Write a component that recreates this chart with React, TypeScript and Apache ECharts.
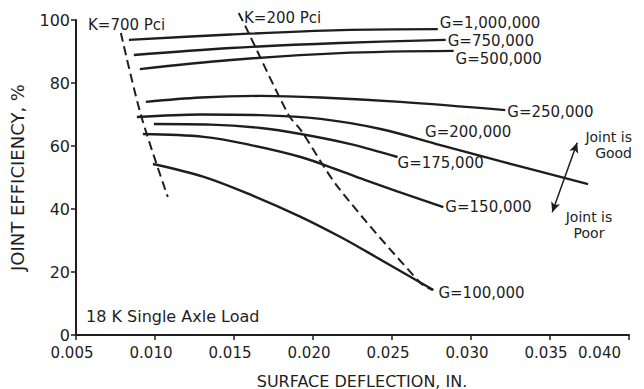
import React, { useEffect, useRef } from "react";
import * as echarts from "echarts";

// Joint efficiency vs surface deflection (18 K single axle load)
const xTickMin = 0.005;
const xTickMax = 0.04;
const xTickStep = 0.005;
const yTickMin = 0;
const yTickMax = 100;
const yTickStep = 20;

const g1000000 = [[0.00835, 93.7], [0.0148, 95.4], [0.0218, 96.8], [0.0279, 97.1]];
const g750000 = [[0.00866, 88.9], [0.0148, 91.1], [0.0217, 92.7], [0.0284, 93.7]];
const g500000 = [[0.00904, 84.4], [0.0148, 87.3], [0.0217, 89.5], [0.0289, 90.2]];
const g250000 = [[0.00942, 74.0], [0.0129, 75.4], [0.01669, 75.9], [0.02048, 75.4], [0.02553, 74.0], [0.03217, 71.4]];
const g200000 = [[0.00885, 69.2], [0.0129, 70.0], [0.01669, 69.8], [0.02048, 68.6], [0.02427, 65.4], [0.02806, 60.3], [0.03185, 55.2], [0.03741, 47.9]];
const g175000 = [[0.00993, 67.0], [0.01353, 66.8], [0.01669, 65.7], [0.01922, 63.8], [0.02238, 60.6], [0.02535, 56.5]];
const g150000 = [[0.00923, 63.8], [0.01309, 62.9], [0.01606, 60.3], [0.01922, 56.5], [0.02174, 52.1], [0.02345, 48.9], [0.02825, 40.6]];
const g100000 = [[0.00987, 54.3], [0.01309, 50.2], [0.01625, 44.1], [0.01922, 37.5], [0.02174, 31.1], [0.02345, 26.3], [0.02762, 14.3]];
const k700 = [[0.00784, 95.9], [0.00911, 69.8], [0.01081, 43.8]];
const k200 = [[0.0153, 102.2], [0.01574, 97.8], [0.01846, 69.8], [0.01922, 65.1], [0.02162, 46.7], [0.0268, 16.5], [0.02756, 14.3]];

const gNames = ["G=1,000,000", "G=750,000", "G=500,000", "G=250,000", "G=200,000", "G=175,000", "G=150,000", "G=100,000"];
const gData = [g1000000, g750000, g500000, g250000, g200000, g175000, g150000, g100000];
const gLabelOffsets = [[0, -6], [0, 1], [0, 8], [0, 2], [-165, -52], [-2, 6], [0, 0], [3, 3]];

// Arrow: joint is poor (bottom) -> joint is good (top)
const arrowPoor = [0.03514, 39.0];
const arrowGood = [0.03672, 61.0];

const INK = "#1e1e1e";
const FONT = "DejaVu Sans";

export default function App() {
  const ref = useRef<HTMLDivElement>(null);
  useEffect(() => {
    if (!ref.current) return;
    const chart = echarts.init(ref.current, null, { renderer: "svg" });
    const gSeries = gData.map((d, i) => ({
      type: "line",
      name: gNames[i],
      data: d,
      smooth: 0.35,
      symbol: "none",
      lineStyle: { color: INK, width: 2.4 },
      endLabel: {
        show: true,
        formatter: gNames[i],
        distance: 2,
        offset: gLabelOffsets[i],
        color: INK,
        fontFamily: FONT,
        fontSize: 15,
        lineHeight: 13,
      },
      markLine:
        i === 4
          ? {
              silent: true,
              symbol: ["arrow", "arrow"],
              symbolSize: [7, 10],
              label: { show: false },
              lineStyle: { color: INK, width: 1.5, type: "solid", curveness: 0.12 },
              data: [[{ coord: arrowPoor }, { coord: arrowGood }]],
            }
          : undefined,
    }));
    const kSeries = [k700, k200].map((d) => ({
      type: "line",
      data: d,
      smooth: 0.3,
      symbol: "none",
      clip: false,
      lineStyle: { color: INK, width: 2, type: [9, 5] },
    }));
    chart.setOption({
      animation: false,
      backgroundColor: "#fff",
      grid: { left: 74, right: 15, top: 20, bottom: 54 },
      xAxis: {
        type: "value",
        min: xTickMin,
        max: xTickMax,
        interval: xTickStep,
        axisLine: { lineStyle: { color: INK, width: 2 } },
        axisTick: { lineStyle: { color: INK, width: 1.5 }, length: 5 },
        splitLine: { show: false },
        axisLabel: {
          color: INK,
          fontFamily: FONT,
          fontSize: 15,
          lineHeight: 14,
          margin: 11,
          alignMaxLabel: "right",
          padding: [0, 8, 0, 0],
          formatter: (v: number) => v.toFixed(3),
        },
      },
      yAxis: {
        type: "value",
        min: yTickMin,
        max: yTickMax,
        interval: yTickStep,
        name: "JOINT EFFICIENCY, %",
        nameLocation: "middle",
        nameGap: 50,
        nameTextStyle: { color: INK, fontFamily: FONT, fontSize: 18 },
        axisLine: { show: true, lineStyle: { color: INK, width: 2 } },
        axisTick: { show: true, lineStyle: { color: INK, width: 1.5 }, length: 5 },
        splitLine: { show: false },
        axisLabel: { color: INK, fontFamily: FONT, fontSize: 16, lineHeight: 14, margin: 6 },
      },
      graphic: [
        {
          type: "text",
          x: 362,
          y: 381,
          style: {
            text: "SURFACE DEFLECTION, IN.",
            fill: INK,
            font: `16px ${FONT}`,
            align: "center",
            verticalAlign: "middle",
          },
        },
        { type: "text", left: 88, top: 17, style: { text: "K=700 Pci", fill: INK, font: `15px ${FONT}` } },
        { type: "text", left: 244, top: 10, style: { text: "K=200 Pci", fill: INK, font: `15px ${FONT}` } },
        { type: "text", left: 86, top: 308, style: { text: "18 K Single Axle Load", fill: INK, font: `16px ${FONT}` } },
        {
          type: "text",
          x: 632,
          y: 129,
          style: { text: "Joint is\nGood", fill: INK, font: `14px ${FONT}`, align: "right", lineHeight: 16 },
        },
        {
          type: "text",
          x: 589,
          y: 209,
          style: { text: "Joint is\nPoor", fill: INK, font: `14px ${FONT}`, align: "center", lineHeight: 16 },
        },
      ],
      series: [...gSeries, ...kSeries],
    });
    return () => chart.dispose();
  }, []);
  return <div ref={ref} style={{ position: "absolute", left: 0, top: 0, width: 644, height: 389 }} />;
}
